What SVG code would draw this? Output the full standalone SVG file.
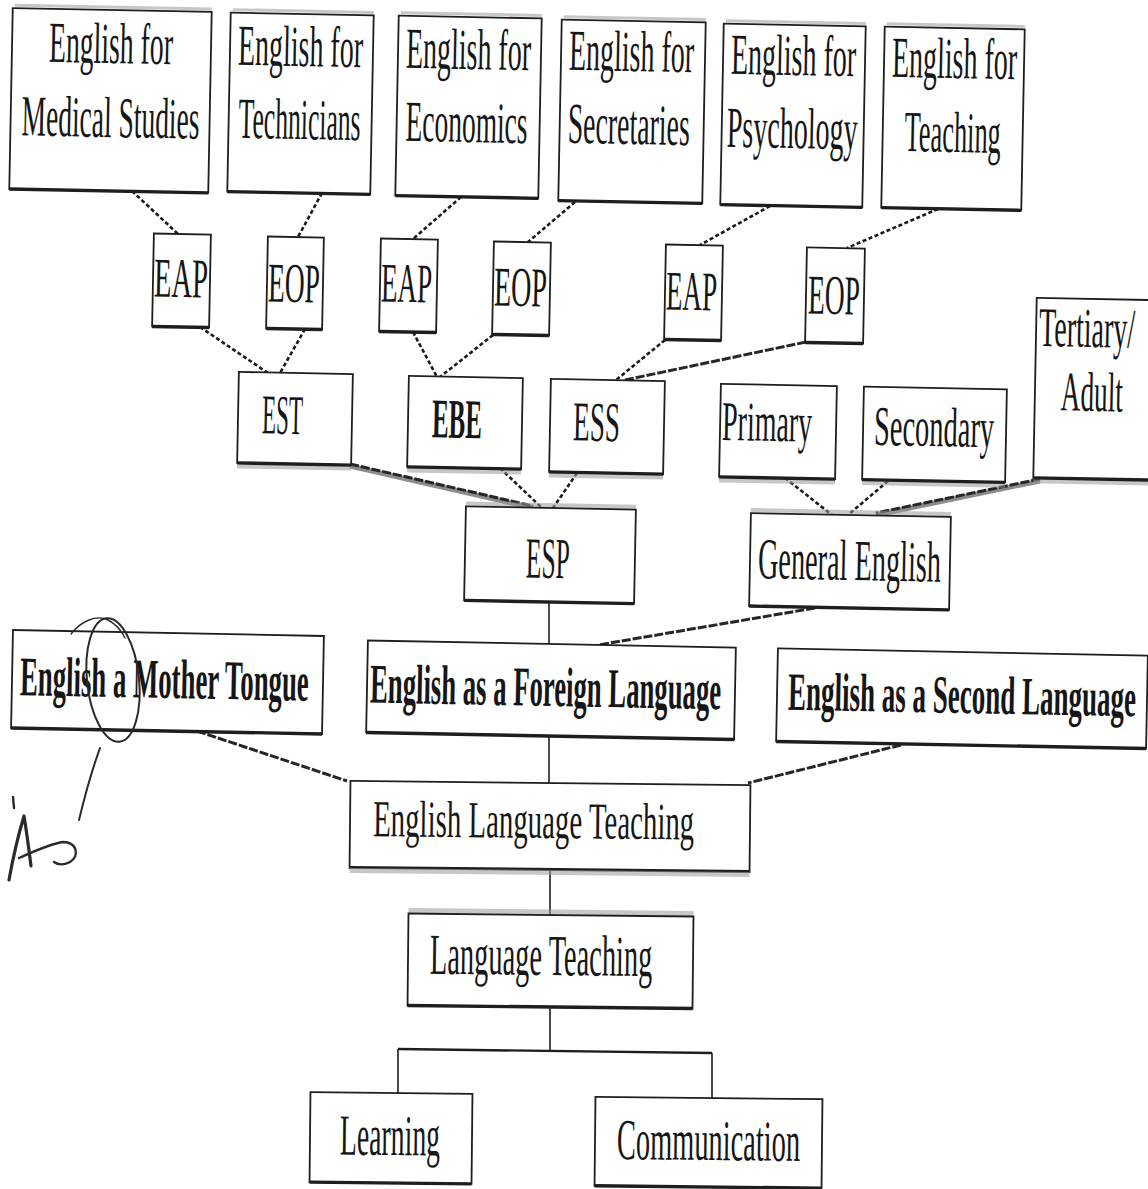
<svg xmlns="http://www.w3.org/2000/svg" width="1148" height="1189" viewBox="0 0 1148 1189">
  <style>
    .box { fill: #ffffff; stroke: #1e1e1e; stroke-width: 1.8; }
    .base { stroke: #1e1e1e; stroke-width: 3.4; }
    .haze { stroke: #9a9a9a; stroke-width: 3; opacity: 0.55; }
    .t { font-family: "Liberation Serif", "DejaVu Serif", serif; fill: #161616; font-size: 56px; }
    .tl { font-size: 58px; }
    .b { font-weight: bold; }
    .dash { fill: none; stroke: #1a1a1a; stroke-width: 2.6; stroke-dasharray: 4 2.5; }
    .step { fill: none; stroke: #262626; stroke-width: 3; stroke-dasharray: 9 2; }
    .grey { fill: none; stroke: #8c8c8c; stroke-width: 5; }
    .solid { fill: none; stroke: #1e1e1e; stroke-width: 1.6; }
    .pen { fill: none; stroke: #2a2a2a; stroke-linecap: round; stroke-linejoin: round; }
  </style>

  <!-- connectors -->
  <g id="connectors">
    <!-- subject boxes to EAP / EOP -->
    <line class="dash" x1="132" y1="191" x2="178" y2="234"/>
    <line class="dash" x1="322" y1="193" x2="298" y2="237"/>
    <line class="dash" x1="461" y1="197" x2="413" y2="239"/>
    <line class="dash" x1="575" y1="202" x2="528" y2="242"/>
    <line class="dash" x1="770" y1="206" x2="700" y2="245"/>
    <line class="dash" x1="938" y1="209" x2="847" y2="248"/>
    <!-- EAP / EOP to EST, EBE, ESS -->
    <line class="dash" x1="200" y1="327" x2="268" y2="373"/>
    <line class="dash" x1="305" y1="329" x2="280" y2="373"/>
    <line class="dash" x1="413" y1="332" x2="437" y2="377"/>
    <line class="dash" x1="493" y1="335" x2="440" y2="377"/>
    <line class="dash" x1="665" y1="340" x2="616" y2="380"/>
    <line class="step" x1="806" y1="342" x2="625" y2="380"/>
    <!-- EST, EBE, ESS to ESP -->
    <line class="grey" x1="350" y1="466" x2="533" y2="508"/>
    <line class="step" x1="350" y1="464" x2="533" y2="506"/>
    <line class="dash" x1="500" y1="468" x2="542" y2="508"/>
    <line class="dash" x1="577" y1="473" x2="553" y2="508"/>
    <!-- Primary, Secondary, Tertiary to General English -->
    <line class="dash" x1="785" y1="478" x2="832" y2="515"/>
    <line class="dash" x1="888" y1="481" x2="848" y2="515"/>
    <line class="grey" x1="1040" y1="481" x2="876" y2="515"/>
    <line class="step" x1="1040" y1="479" x2="876" y2="513"/>
    <!-- ESP and General English to EFL -->
    <line class="solid" x1="549" y1="602" x2="549" y2="644"/>
    <line class="step" x1="815" y1="608" x2="598" y2="645"/>
    <!-- MT, EFL, ESL to ELT -->
    <line class="step" x1="197" y1="731" x2="347" y2="781"/>
    <line class="solid" x1="549" y1="736" x2="549" y2="783"/>
    <line class="step" x1="901" y1="745" x2="748" y2="783"/>
    <!-- ELT to Language Teaching -->
    <line class="solid" x1="550" y1="870" x2="550" y2="915"/>
    <!-- Language Teaching fork -->
    <line class="solid" x1="550" y1="1007" x2="550" y2="1051"/>
    <line class="solid" x1="398" y1="1049" x2="712" y2="1053" style="stroke-width:2.4"/>
    <line class="solid" x1="398" y1="1049" x2="398" y2="1093"/>
    <line class="solid" x1="712" y1="1053" x2="712" y2="1098"/>
  </g>

  <!-- top row: subject-specific courses -->
  <g id="n-medical" transform="rotate(1.1 110.5 100.5)">
    <line class="haze" x1="13" y1="7" x2="210" y2="7"/>
    <rect class="box" x="11" y="10" width="199" height="181"/>
    <line class="base" x1="11" y1="191" x2="210" y2="191"/>
    <text class="t tl" transform="translate(48 63) scale(0.478 1)">English for</text>
    <text class="t tl" transform="translate(22 137) scale(0.474 1)">Medical Studies</text>
  </g>
  <g id="n-technicians" transform="rotate(1.1 300.5 103.5)">
    <line class="haze" x1="231" y1="11" x2="372" y2="11"/>
    <rect class="box" x="229" y="14" width="143" height="179"/>
    <line class="base" x1="229" y1="193" x2="372" y2="193"/>
    <text class="t tl" transform="translate(237 66) scale(0.482 1)">English for</text>
    <text class="t tl" transform="translate(239 139) scale(0.442 1)">Technicians</text>
  </g>
  <g id="n-economics" transform="rotate(1.1 468.5 107)">
    <line class="haze" x1="399" y1="14" x2="540" y2="14"/>
    <rect class="box" x="397" y="17" width="143" height="180"/>
    <line class="base" x1="397" y1="197" x2="540" y2="197"/>
    <text class="t tl" transform="translate(405 69) scale(0.482 1)">English for</text>
    <text class="t tl" transform="translate(406 142) scale(0.473 1)">Economics</text>
  </g>
  <g id="n-secretaries" transform="rotate(1.1 632 111.5)">
    <line class="haze" x1="562" y1="18" x2="704" y2="18"/>
    <rect class="box" x="560" y="21" width="144" height="181"/>
    <line class="base" x1="560" y1="202" x2="704" y2="202"/>
    <text class="t tl" transform="translate(568 71) scale(0.482 1)">English for</text>
    <text class="t tl" transform="translate(568 144) scale(0.48 1)">Secretaries</text>
  </g>
  <g id="n-psychology" transform="rotate(1.1 793 115.5)">
    <line class="haze" x1="724" y1="22" x2="864" y2="22"/>
    <rect class="box" x="722" y="25" width="142" height="181"/>
    <line class="base" x1="722" y1="206" x2="864" y2="206"/>
    <text class="t tl" transform="translate(730 75) scale(0.482 1)">English for</text>
    <text class="t tl" transform="translate(727 148) scale(0.484 1)">Psychology</text>
  </g>
  <g id="n-teaching" transform="rotate(1.1 953 118.5)">
    <line class="haze" x1="885" y1="25" x2="1023" y2="25"/>
    <rect class="box" x="883" y="28" width="140" height="181"/>
    <line class="base" x1="883" y1="209" x2="1023" y2="209"/>
    <text class="t tl" transform="translate(891 78) scale(0.482 1)">English for</text>
    <text class="t tl" transform="translate(905 152) scale(0.454 1)">Teaching</text>
  </g>

  <!-- second row: EAP / EOP -->
  <g id="n-eap1" transform="rotate(1.1 181.5 280.5)">
    <rect class="box" x="153" y="234" width="57" height="93"/>
    <line class="base" x1="153" y1="327" x2="210" y2="327"/>
    <text class="t" transform="translate(154 297) scale(0.51 1)">EAP</text>
  </g>
  <g id="n-eop1" transform="rotate(1.1 295 283)">
    <rect class="box" x="267" y="237" width="56" height="92"/>
    <line class="base" x1="267" y1="329" x2="323" y2="329"/>
    <text class="t" transform="translate(268 302) scale(0.491 1)">EOP</text>
  </g>
  <g id="n-eap2" transform="rotate(1.1 408.5 285.5)">
    <rect class="box" x="380" y="239" width="57" height="93"/>
    <line class="base" x1="380" y1="332" x2="437" y2="332"/>
    <text class="t" transform="translate(381 302) scale(0.482 1)">EAP</text>
  </g>
  <g id="n-eop2" transform="rotate(1.1 521.5 288.5)">
    <rect class="box" x="493" y="242" width="57" height="93"/>
    <line class="base" x1="493" y1="335" x2="550" y2="335"/>
    <text class="t" transform="translate(494 306) scale(0.501 1)">EOP</text>
  </g>
  <g id="n-eap3" transform="rotate(1.1 693.5 292.5)">
    <rect class="box" x="665" y="245" width="57" height="95"/>
    <line class="base" x1="665" y1="340" x2="722" y2="340"/>
    <text class="t" transform="translate(666 310) scale(0.482 1)">EAP</text>
  </g>
  <g id="n-eop3" transform="rotate(1.1 835 295.5)">
    <rect class="box" x="806" y="248" width="58" height="95"/>
    <line class="base" x1="806" y1="343" x2="864" y2="343"/>
    <text class="t" transform="translate(808 314) scale(0.491 1)">EOP</text>
  </g>

  <!-- third row: ESP branches and General English levels -->
  <g id="n-est" transform="rotate(1.1 295 418.5)">
    <rect class="box" x="238" y="373" width="114" height="91"/>
    <line class="haze" x1="238" y1="467" x2="352" y2="467" style="stroke-width:5"/>
    <line class="base" x1="238" y1="464" x2="352" y2="464"/>
    <text class="t" transform="translate(262 434) scale(0.412 1)">EST</text>
  </g>
  <g id="n-ebe" transform="rotate(1.1 465 422.5)">
    <rect class="box" x="408" y="377" width="114" height="91"/>
    <line class="haze" x1="408" y1="471" x2="522" y2="471" style="stroke-width:5"/>
    <line class="base" x1="408" y1="468" x2="522" y2="468"/>
    <text class="t b" transform="translate(432 438) scale(0.446 1)">EBE</text>
  </g>
  <g id="n-ess" transform="rotate(1.1 607 426.5)">
    <rect class="box" x="550" y="380" width="114" height="93"/>
    <line class="haze" x1="550" y1="476" x2="664" y2="476" style="stroke-width:5"/>
    <line class="base" x1="550" y1="473" x2="664" y2="473"/>
    <text class="t" transform="translate(573 441) scale(0.487 1)">ESS</text>
  </g>
  <g id="n-primary" transform="rotate(1.1 778 431.5)">
    <rect class="box" x="720" y="385" width="116" height="93"/>
    <line class="haze" x1="720" y1="481" x2="836" y2="481" style="stroke-width:5"/>
    <line class="base" x1="720" y1="478" x2="836" y2="478"/>
    <text class="t" transform="translate(722 441) scale(0.499 1)">Primary</text>
  </g>
  <g id="n-secondary" transform="rotate(1.1 934.5 434.5)">
    <rect class="box" x="863" y="388" width="143" height="93"/>
    <line class="haze" x1="863" y1="484" x2="1006" y2="484" style="stroke-width:5"/>
    <line class="base" x1="863" y1="481" x2="1006" y2="481"/>
    <text class="t" transform="translate(874 446) scale(0.508 1)">Secondary</text>
  </g>
  <g id="n-tertiary" transform="rotate(1.1 1095 389)">
    <rect class="box" x="1035" y="299" width="120" height="180"/>
    <line class="haze" x1="1035" y1="482" x2="1155" y2="482" style="stroke-width:5"/>
    <line class="base" x1="1035" y1="479" x2="1155" y2="479"/>
    <text class="t" transform="translate(1038 347) scale(0.5 1)">Tertiary/</text>
    <text class="t" transform="translate(1061 411) scale(0.486 1)">Adult</text>
  </g>

  <!-- fourth row -->
  <g id="n-esp" transform="rotate(1.1 550 555)">
    <line class="haze" x1="465" y1="505" x2="635" y2="505" style="stroke-width:4"/>
    <rect class="box" x="465" y="508" width="170" height="94"/>
    <line class="base" x1="465" y1="602" x2="635" y2="602"/>
    <text class="t tl" transform="translate(526 578) scale(0.44 1)">ESP</text>
  </g>
  <g id="n-general" transform="rotate(1.1 850 561.5)">
    <line class="haze" x1="750" y1="512" x2="950" y2="512" style="stroke-width:4"/>
    <rect class="box" x="750" y="515" width="200" height="93"/>
    <line class="base" x1="750" y1="608" x2="950" y2="608"/>
    <text class="t tl" transform="translate(758 580) scale(0.488 1)">General English</text>
  </g>

  <!-- fifth row -->
  <g id="n-mother" transform="rotate(1.1 167.5 682)">
    <rect class="box" x="12" y="633" width="311" height="98"/>
    <line class="base" x1="12" y1="731" x2="323" y2="731"/>
    <text class="t b" transform="translate(20 698) scale(0.478 1)">English a Mother Tongue</text>
  </g>
  <g id="n-foreign" transform="rotate(1.1 551 690)">
    <rect class="box" x="367" y="644" width="368" height="92"/>
    <line class="base" x1="367" y1="736" x2="735" y2="736"/>
    <text class="t b" transform="translate(370 706) scale(0.477 1)">English as a Foreign Language</text>
  </g>
  <g id="n-second" transform="rotate(1.1 962 698.5)">
    <rect class="box" x="777" y="652" width="370" height="93"/>
    <line class="base" x1="777" y1="745" x2="1147" y2="745"/>
    <text class="t b" transform="translate(788 713) scale(0.5 1)" style="font-size:54px">English as a Second Language</text>
  </g>

  <!-- lower trunk -->
  <g id="n-elt" transform="rotate(0.6 550 826.5)">
    <rect class="box" x="350" y="783" width="400" height="87"/>
    <line class="haze" x1="350" y1="872" x2="750" y2="872" style="stroke-width:6"/>
    <line class="base" x1="350" y1="869" x2="750" y2="869" style="stroke-width:2"/>
    <text class="t" transform="translate(373 838) scale(0.555 1)" style="font-size:52px">English Language Teaching</text>
  </g>
  <g id="n-lt" transform="rotate(0.6 550.5 961)">
    <line class="haze" x1="408" y1="912" x2="693" y2="912" style="stroke-width:5"/>
    <rect class="box" x="408" y="915" width="285" height="92"/>
    <line class="base" x1="408" y1="1007" x2="693" y2="1007"/>
    <text class="t tl" transform="translate(430 975) scale(0.49 1)">Language Teaching</text>
  </g>
  <g id="n-learning" transform="rotate(0.6 391 1138)">
    <rect class="box" x="310" y="1093" width="162" height="90"/>
    <line class="base" x1="310" y1="1183" x2="472" y2="1183"/>
    <text class="t tl" transform="translate(340 1155) scale(0.478 1)">Learning</text>
  </g>
  <g id="n-communication" transform="rotate(0.6 708.5 1142.5)">
    <rect class="box" x="595" y="1098" width="227" height="89"/>
    <line class="base" x1="595" y1="1187" x2="822" y2="1187"/>
    <text class="t tl" transform="translate(617 1160) scale(0.49 1)">Communication</text>
  </g>

  <!-- pen annotation: circled gap with "As" written beside it -->
  <g id="annotation" class="pen">
    <ellipse cx="113" cy="680" rx="26" ry="62" transform="rotate(-6 113 680)" style="stroke-width:2"/>
    <path d="M 71 634 C 80 622, 96 614, 108 620 C 116 624, 121 630, 125 638" style="stroke-width:1.4"/>
    <path d="M 100 748 C 92 770, 85 795, 79 820" style="stroke-width:2"/>
    <path d="M 13 797 L 14 808" style="stroke-width:2.4"/>
    <path d="M 9 880 C 13 858, 18 836, 24 816 C 27 834, 29 850, 31 866" style="stroke-width:3.2"/>
    <path d="M 19 858 C 33 852, 49 844, 63 842 C 77 842, 80 856, 70 862 C 64 865, 58 865, 54 862" style="stroke-width:2.4"/>
  </g>
</svg>
